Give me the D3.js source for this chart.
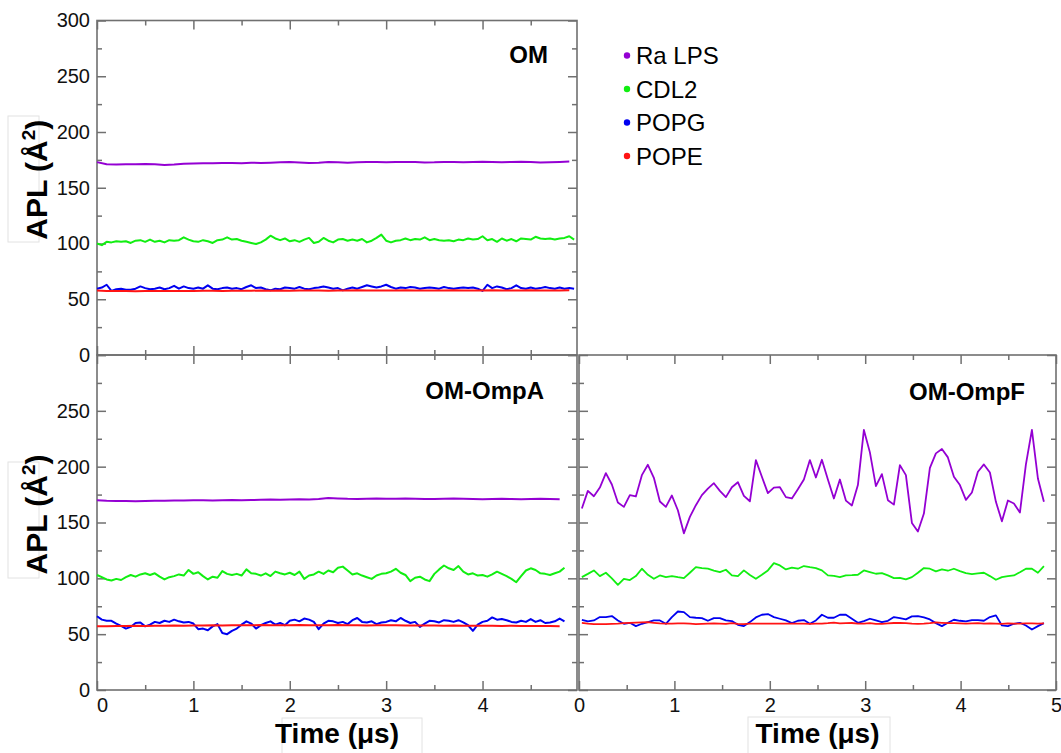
<!DOCTYPE html>
<html>
<head>
<meta charset="utf-8">
<script src="https://cdn.jsdelivr.net/npm/d3@7"></script>
<style>
  body { margin: 0; background: #fff; }
  svg { display: block; font-family: "Liberation Sans", Arial, Helvetica, sans-serif; }
</style>
</head>
<body>
<svg width="1061" height="753"></svg>
<script>
"use strict";

// ---- data (APL in A^2, time in microseconds) ----
const seriesNames = ["Ra LPS", "CDL2", "POPG", "POPE"];
const seriesColors = ["#9400d3", "#11ee11", "#0000f0", "#ff1414"];
const yTickLabels = [0, 50, 100, 150, 200, 250, 300];
const xTickLabels = [0, 1, 2, 3, 4, 5];

// sampling of the traces
const denseStep = 0.05, flatStep = 0.1;
const ompfStart = 0.03, ompfStep = 0.0629;

// OM
const omLps = [173, 171, 170.8, 171, 171, 171.2, 171, 170.5, 170.8, 171.5,
  171.8, 172, 172, 172.2, 172.3, 172, 172.5, 172.3, 172.5, 172.8,
  173, 172.6, 172.3, 172.5, 173, 172.8, 172.5, 172.8, 173.2, 173,
  172.8, 173, 173.2, 173, 172.6, 172.8, 173.2, 173, 172.8, 173,
  173.3, 173, 172.8, 173.1, 173.3, 173, 172.7, 172.9, 173.2, 173.5];
const omCdl2 = [100, 98.5, 101.5, 101, 102, 101.5, 102, 100.5, 102.5, 103,
  101.5, 103.5, 101.5, 102.5, 101, 103, 102.5, 103, 105.5, 103.5,
  102, 101.5, 103, 102, 100.5, 103, 103.5, 105.5, 103.5, 104,
  102.5, 101.5, 100.5, 99.5, 101, 103.5, 107, 104.5, 103, 104.5,
  102, 103, 101.5, 103.5, 105, 100.5, 101.5, 105, 102.5, 101,
  103.5, 104, 102.5, 103.5, 102.5, 104, 101, 102.5, 105, 108,
  102.5, 101, 102.5, 103, 104.5, 103, 104, 103.5, 105.5, 103,
  104, 103, 102.5, 103, 102, 103.5, 103, 104.5, 103.5, 104,
  106.5, 103, 104, 101.5, 104.5, 102.5, 104, 102, 104.5, 104,
  103.5, 106, 104.5, 104, 104.5, 103.5, 104.5, 105, 106.5, 103.5];
const omPopg = [59.5, 60.5, 63, 57.5, 59, 59.5, 58.5, 58.5, 59.5, 61.5,
  60, 59, 59.5, 60.5, 59, 60, 62, 59.5, 61.5, 60,
  59.5, 60.5, 59.5, 62.5, 59.5, 59, 60, 60.5, 59.5, 60,
  59, 61, 62.5, 60, 60.5, 59, 58, 59.5, 59, 60.5,
  60, 59.5, 61, 59.5, 59, 60, 60.5, 61.5, 60.5, 59.5,
  60, 58, 59.5, 60.5, 59.5, 61, 62.5, 61.5, 60.5, 61.5,
  63, 61, 59.5, 60.5, 60, 61, 60.5, 59.5, 60, 60.5,
  60, 59.5, 61, 60, 59.5, 60, 60.5, 60, 60.5, 59.5,
  57.5, 63, 60, 61.5, 60.5, 59, 60, 62.5, 60, 59.5,
  60.5, 59.5, 60, 61, 60, 59.5, 60.5, 59.5, 60, 59.5];
const omPope = [57.8, 57.5, 57.4, 57.3, 57.2, 57.3, 57.4, 57.3, 57.5, 57.5,
  57.4, 57.6, 57.6, 57.5, 57.7, 57.6, 57.7, 57.8, 57.7, 57.8,
  57.7, 57.9, 57.8, 57.8, 57.7, 57.9, 57.8, 58, 57.8, 57.9,
  57.8, 57.9, 58, 57.9, 57.8, 57.9, 57.8, 58, 57.9, 57.8,
  57.9, 58, 57.9, 57.8, 57.9, 58, 57.9, 57.8, 57.9, 58];

// OM-OmpA
const ompaLps = [170, 169.5, 169.3, 169.2, 169, 169.2, 169.4, 169.5, 169.7, 169.8,
  170, 170, 169.8, 170, 170.2, 170, 170.2, 170.3, 170.5, 170.4,
  170.6, 170.8, 170.7, 171, 172, 171.6, 171.2, 171, 171.2, 171.5,
  171.3, 171.2, 171.5, 171.3, 171.1, 171, 171.2, 171.4, 171.2, 171,
  170.8, 171, 171.2, 171, 170.8, 171, 171.2, 171, 170.8];
const ompaCdl2 = [103, 101, 99, 98, 99.5, 98.5, 101, 103, 101.5, 103.5,
  104.5, 103, 104.5, 101.5, 99, 101, 102, 103.5, 102.5, 107.5,
  104, 105.5, 102, 99, 101.5, 100.5, 106.5, 104, 103, 104,
  102.5, 108, 104.5, 104, 102.5, 104.5, 102, 106, 104.5, 103.5,
  105, 103, 106, 99.5, 102.5, 103.5, 106, 104, 107, 105.5,
  109.5, 110.5, 107, 103.5, 104.5, 102.5, 101, 99.5, 102.5, 104,
  104.5, 106, 108.5, 105, 103, 97.5, 100.5, 101.5, 99, 97.5,
  104, 108, 111.5, 109, 107.5, 111, 106, 103.5, 104.5, 102.5,
  103, 101.5, 103.5, 106, 104, 102, 99.5, 96.5, 102, 107,
  109, 107.5, 104.5, 104, 103, 104.5, 106, 109.5];
const ompaPopg = [66, 63, 62, 62, 59.5, 57.5, 55, 56.5, 60, 60.5,
  57, 58.5, 61, 60, 62, 61, 63, 61.5, 60.5, 61,
  59.5, 54.5, 55, 53.5, 57, 59, 51, 50, 53, 55,
  58.5, 61.5, 59.5, 55, 58, 60, 61.5, 58.5, 60, 58,
  62, 63, 61.5, 64, 63, 61, 54.5, 59.5, 62, 61.5,
  60, 61, 59, 62.5, 64.5, 61, 60.5, 61.5, 59, 60.5,
  61, 62.5, 61.5, 64.5, 62, 60, 61, 56.5, 59.5, 62,
  61.5, 60.5, 62.5, 62, 61, 62.5, 60.5, 58, 53, 58.5,
  61, 62, 65, 63, 63.5, 62.5, 61, 60.5, 62, 61,
  63.5, 61, 62.5, 60, 60.5, 61.5, 64, 61.5];
const ompaPope = [57, 57.2, 57.4, 57.3, 57.5, 57.4, 57.6, 57.5, 57.7, 57.6,
  57.8, 57.7, 57.9, 57.8, 58, 57.9, 58, 58.1, 58, 57.9,
  58, 58.1, 58, 57.9, 58, 58.1, 58, 57.9, 57.8, 57.9,
  58, 57.9, 57.8, 57.7, 57.8, 57.7, 57.6, 57.7, 57.6, 57.5,
  57.6, 57.5, 57.4, 57.5, 57.4, 57.3, 57.4, 57.3, 57.2];

// OM-OmpF
const ompfLps = [162.5, 178.3, 173.5, 181.3, 194.2, 184, 167.9, 164, 174.5, 173.3,
  192.4, 201.7, 190, 168.8, 164, 174.2, 161, 140.3, 155, 165.5,
  174.5, 180.4, 185.2, 178.3, 172.7, 181.6, 186.1, 173.9, 169, 205.9,
  191, 176.3, 181.3, 181.6, 172.7, 171.5, 179.8, 188.5, 205.9, 190.3,
  206.2, 188.5, 171.5, 188.5, 169.6, 165.2, 183.5, 232.9, 212.8, 182.5,
  193.3, 170, 166, 201.4, 192.4, 149.6, 142, 158, 199, 211.9,
  215.8, 208.3, 191, 183.5, 170.3, 176.9, 195.4, 202, 194.8, 168.5,
  151.1, 169.7, 167, 158.9, 202, 232.9, 189.4, 168.5];
const ompfCdl2 = [101.1, 104, 107.1, 102, 105, 100, 94.2, 99.6, 98.4, 102,
  108.6, 103.2, 99.6, 102.6, 101.1, 102, 101, 100.2, 105, 110,
  109.2, 108.6, 107, 105.6, 107.7, 102.6, 102, 107.1, 103, 99.6,
  103.2, 107.1, 113.6, 111.6, 108, 109.5, 108.6, 111, 110, 109.2,
  107.1, 102.6, 102.2, 101.1, 102.6, 102.8, 103.2, 107.1, 105.6, 104.1,
  104.7, 102.6, 100.2, 100.5, 99, 101.1, 105, 109.2, 108.6, 106.2,
  108, 106.8, 108.6, 106.5, 104.7, 103.8, 104.4, 105, 102, 98.7,
  101.1, 102, 102.6, 105.5, 108.6, 108.6, 105, 111];
const ompfPopg = [62.9, 61.4, 62.3, 65.3, 65.3, 66.2, 62.3, 59.3, 60.2, 57.2,
  59.3, 60.8, 62.3, 62.3, 59.3, 65.3, 70.3, 69.7, 65.3, 64.7,
  64.4, 62, 64.4, 64.4, 62.3, 61.7, 58.4, 57.2, 60.8, 65,
  67.4, 68, 65.3, 63.8, 62.3, 59.9, 62, 62.6, 59.3, 62.3,
  67.4, 64.7, 64.7, 67.4, 67.4, 63.8, 60.2, 61.7, 63.8, 62.3,
  60.8, 62, 65.3, 64.4, 63.2, 65.9, 66.2, 65, 63.2, 59.9,
  57.2, 60.2, 62.9, 62, 61.4, 62.6, 62.6, 62, 65.3, 66.8,
  57.8, 57.2, 59.3, 60.2, 57.8, 54.2, 57.2, 59.9];
const ompfPope = [60.2, 59.5, 59, 59, 59, 59.2, 59.4, 59.8, 60.2, 60.4,
  60.6, 60.8, 60.2, 59.6, 59.4, 59.5, 59.6, 59.6, 59.4, 59,
  59.2, 59.4, 59.6, 59.5, 59.3, 59.8, 59.2, 59, 59.4, 59.5,
  59.5, 59.4, 59.4, 59.5, 59.4, 59.5, 59.4, 59.5, 59.3, 59.4,
  59.4, 59.8, 60.4, 59.6, 59.8, 60, 59.5, 59.4, 59.8, 59.2,
  59.3, 59.6, 60, 60.2, 59.8, 59.4, 59.3, 59.4, 59.8, 60.6,
  60.2, 59.8, 59.8, 59.6, 59.5, 59.6, 59.8, 59.4, 59.6, 59.5,
  59.3, 59.6, 59.5, 59.4, 59.7, 59.6, 59.5, 59.6];

// ---- layout ----
const axisColor = "#707070";
const svg = d3.select("svg");

const panels = [
  { title: "OM", left: 97, right: 577, top: 20.5, bottom: 355, xMax: 4.98,
    yLabelMax: 300, xLabels: false, zeroDx: 0, titleX: 548, titleY: 62.5, lineWidth: 2,
    traces: [[omLps, 0, flatStep], [omCdl2, 0, denseStep], [omPopg, 0, denseStep], [omPope, 0, flatStep]] },
  { title: "OM-OmpA", left: 97, right: 577, top: 355, bottom: 690, xMax: 4.98,
    yLabelMax: 250, xLabels: true, zeroDx: 5, titleX: 544, titleY: 399, lineWidth: 2,
    traces: [[ompaLps, 0, flatStep], [ompaCdl2, 0, denseStep], [ompaPopg, 0, denseStep], [ompaPope, 0, flatStep]] },
  { title: "OM-OmpF", left: 579, right: 1056, top: 355, bottom: 690, xMax: 5,
    yLabelMax: -1, xLabels: true, zeroDx: 0, titleX: 1025, titleY: 400, lineWidth: 1.8,
    traces: [[ompfLps, ompfStart, ompfStep], [ompfCdl2, ompfStart, ompfStep], [ompfPopg, ompfStart, ompfStep], [ompfPope, ompfStart, ompfStep]] }
];

// faint boxes left over around the axis titles
const boxes = [[8, 116, 31, 126], [8, 462, 31, 116], [282, 718, 140, 40], [748, 717, 142, 40]];
svg.append("g").selectAll("rect").data(boxes).enter().append("rect")
  .attr("x", d => d[0]).attr("y", d => d[1]).attr("width", d => d[2]).attr("height", d => d[3])
  .attr("fill", "none").attr("stroke", "#e2e2e2").attr("stroke-width", 1);

function styleAxis(g) {
  g.attr("font-family", null).attr("font-size", null);
  g.select(".domain").remove();
  g.selectAll(".tick line").attr("stroke", axisColor).attr("stroke-width", 1.5);
  g.selectAll(".tick text").attr("fill", "#111").attr("font-size", 20);
}

function addTicks(g, axisFn, pos, scale, values, size, fmt, pad) {
  const isVertical = axisFn === d3.axisLeft || axisFn === d3.axisRight;
  return g.append("g")
    .attr("transform", isVertical ? `translate(${pos},0)` : `translate(0,${pos})`)
    .call(axisFn(scale).tickValues(values).tickSize(-size).tickSizeOuter(0)
      .tickPadding(pad).tickFormat(fmt))
    .call(styleAxis);
}

function drawPanel(p) {
  const x = d3.scaleLinear().domain([0, p.xMax]).range([p.left, p.right]);
  const y = d3.scaleLinear().domain([0, 300]).range([p.bottom, p.top]);
  const g = svg.append("g");

  const xMajor = xTickLabels.filter(v => v <= p.xMax);
  const xMinor = xMajor.map(v => v + 0.5).filter(v => v < p.xMax);
  const yMinor = yTickLabels.slice(0, -1).map(v => v + 25);
  const none = () => "";
  const yFmt = d => (d <= p.yLabelMax ? d : "");

  // minor ticks
  addTicks(g, d3.axisLeft, p.left, y, yMinor, 5, none, 7);
  addTicks(g, d3.axisRight, p.right, y, yMinor, 5, none, 7);
  addTicks(g, d3.axisTop, p.top, x, xMinor, 5, none, 7);
  addTicks(g, d3.axisBottom, p.bottom, x, xMinor, 5, none, 7);
  // major ticks
  addTicks(g, d3.axisLeft, p.left, y, yTickLabels, 9, yFmt, 7);
  addTicks(g, d3.axisRight, p.right, y, yTickLabels, 9, none, 7);
  addTicks(g, d3.axisTop, p.top, x, xMajor, 9, none, 7);
  const bottomAxis = addTicks(g, d3.axisBottom, p.bottom, x, xMajor, 9,
    p.xLabels ? d3.format("d") : none, 8);
  if (p.zeroDx) {
    bottomAxis.selectAll(".tick text").filter(d => d === 0).attr("dx", p.zeroDx);
  }

  // frame
  g.append("rect")
    .attr("x", p.left).attr("y", p.top)
    .attr("width", p.right - p.left).attr("height", p.bottom - p.top)
    .attr("fill", "none").attr("stroke", axisColor).attr("stroke-width", 1.6);

  const line = d3.line().x(d => x(d[0])).y(d => y(d[1]));
  p.traces.forEach((tr, k) => {
    const pts = tr[0].map((v, i) => [tr[1] + i * tr[2], v]);
    g.append("path")
      .attr("d", line(pts))
      .attr("fill", "none")
      .attr("stroke", seriesColors[k])
      .attr("stroke-width", p.lineWidth)
      .attr("stroke-linejoin", "round");
  });

  g.append("text")
    .attr("x", p.titleX).attr("y", p.titleY)
    .attr("text-anchor", "end")
    .attr("font-size", 24).attr("font-weight", "bold")
    .text(p.title);

  if (p.xLabels) {
    g.append("text")
      .attr("x", (p.left + p.right) / 2).attr("y", 743)
      .attr("text-anchor", "middle")
      .attr("font-size", 28).attr("font-weight", "bold")
      .text("Time (μs)");
  }
  if (p.yLabelMax > 0) {
    const t = g.append("text")
      .attr("transform", `translate(47,${(p.top + p.bottom) / 2 - 8}) rotate(-90)`)
      .attr("text-anchor", "middle")
      .attr("font-size", 30).attr("font-weight", "bold");
    t.append("tspan").text("APL (Å");
    t.append("tspan").attr("font-size", 19).attr("dy", -12).text("2");
    t.append("tspan").attr("dy", 12).text(")");
  }
}

panels.forEach(drawPanel);

// legend
const legend = svg.append("g").attr("transform", "translate(627,64)");
const item = legend.selectAll("g").data(seriesNames).enter().append("g")
  .attr("transform", (d, i) => `translate(0,${i * 33.5})`);
item.append("circle").attr("cx", 0).attr("cy", -8.5).attr("r", 3.2)
  .attr("fill", (d, i) => seriesColors[i]);
item.append("text").attr("x", 9).attr("y", 0)
  .attr("font-size", 24).attr("fill", "#000")
  .text(d => d);
</script>
</body>
</html>
